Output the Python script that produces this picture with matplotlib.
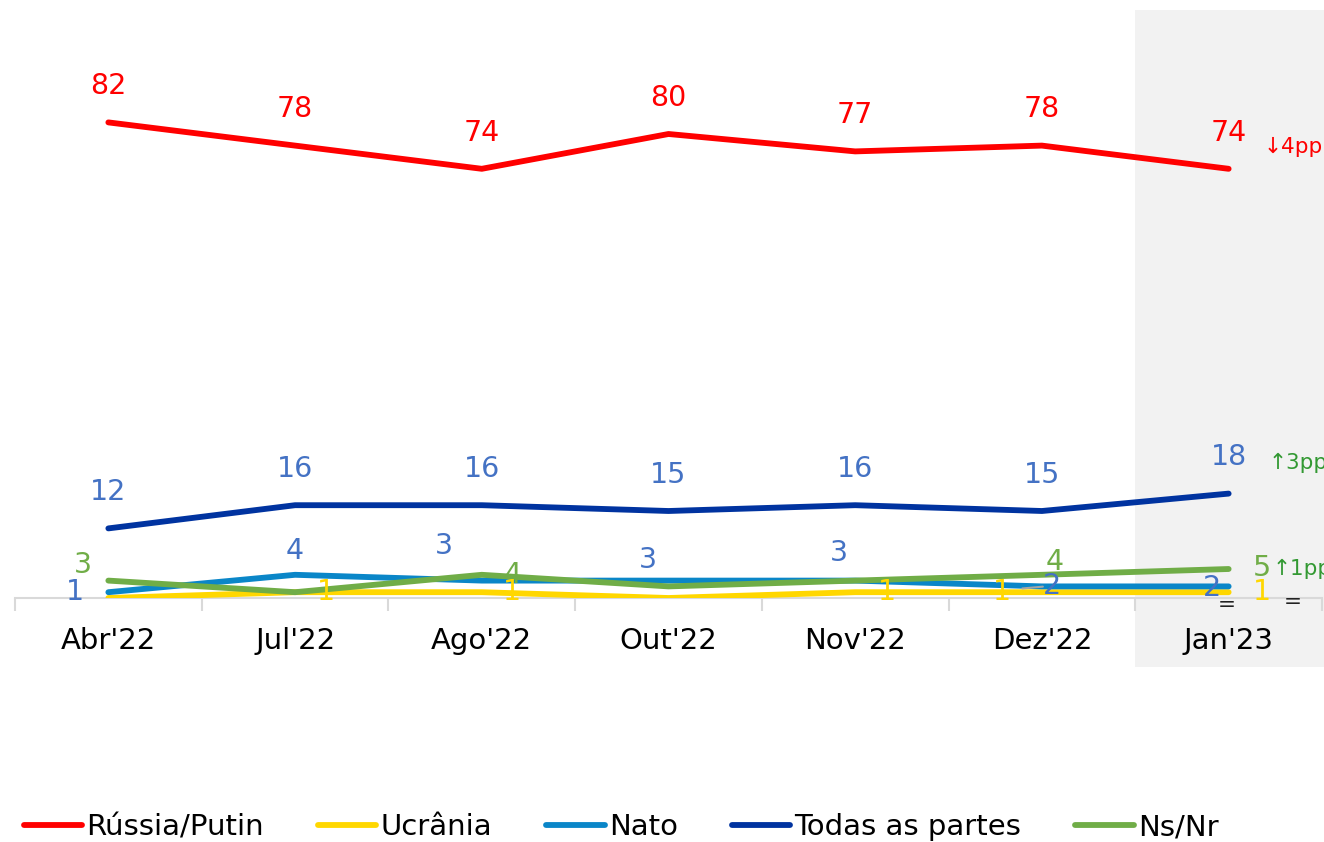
import matplotlib.pyplot as plt
from matplotlib.patches import Rectangle
from matplotlib.transforms import blended_transform_factory

# Data
months = ["Abr'22", "Jul'22", "Ago'22", "Out'22", "Nov'22", "Dez'22", "Jan'23"]
russia = [82, 78, 74, 80, 77, 78, 74]
ucrania = [0, 1, 1, 0, 1, 1, 1]
nato = [1, 4, 3, 3, 3, 2, 2]
todas = [12, 16, 16, 15, 16, 15, 18]
nsnr = [3, 1, 4, 2, 3, 4, 5]
series_names = ["Rússia/Putin", "Ucrânia", "Nato", "Todas as partes", "Ns/Nr"]
changes = ["↓4pp", "=", "=", "↑3pp", "↑1pp"]

line_colors = ["#FF0000", "#FFD700", "#0A86C8", "#0033A0", "#70AD47"]
label_colors = ["#FF0000", "#FFD700", "#4472C4", "#4472C4", "#70AD47"]
change_colors = ["#FF0000", "#222222", "#222222", "#339933", "#339933"]

# label offsets in points (None = label hidden, as in the original)
above = [(0, 26)] * 7
label_offsets = [
    above,
    [None, (22, 0), (22, 0), None, (23, 0), (-29, 0), (24, 0)],
    [(-24, 0), (0, 17), (-27, 25), (-15, 15), (-12, 20), (7, 0), (-12, -1)],
    above,
    [(-18, 11), None, (22, 0), None, None, (9, 9), (24, 1)],
]
change_offsets = [(25, 16), (-8, -9), (40, -11), (29, 22), (32, 0)]

plt.rcParams['font.family'] = ['DejaVu Sans']

fig = plt.figure(figsize=(13.24, 8.42), dpi=100)
ax = fig.add_axes([15 / 1324, 244 / 842, 1307 / 1324, 580 / 842])
ax.set_zorder(1)
ax.set_facecolor("none")

x = list(range(len(months)))
all_series = [russia, ucrania, nato, todas, nsnr]

# shaded last period
shade = Rectangle((5.5, 175 / 842), 1.2, 657 / 842, facecolor="#F2F2F2",
                  edgecolor="none", zorder=0, clip_on=False,
                  transform=blended_transform_factory(ax.transData, fig.transFigure))
fig.patches.append(shade)

for vals, name, lc, tc, offs, chg, cc, coff in zip(
        all_series, series_names, line_colors, label_colors, label_offsets,
        changes, change_colors, change_offsets):
    ax.plot(x, vals, color=lc, lw=4.2, label=name, solid_capstyle="round", zorder=3)
    for xi, v, off in zip(x, vals, offs):
        if off is None:
            continue
        ax.annotate(str(v), (xi, v), xytext=off, textcoords="offset points",
                    ha="center", va="center", fontsize=20.5, color=tc, zorder=4)
    ax.annotate(chg, (x[-1], vals[-1]), xytext=coff, textcoords="offset points",
                ha="left", va="center", fontsize=15.5, color=cc, annotation_clip=False)

# leader line for Dez Nato label
ax.annotate("", (5.02, 2), xytext=(4.88, 1.6),
            arrowprops=dict(arrowstyle="-", color="#A6A6A6", lw=1.5))

ax.set_xlim(-0.5, 6.5)
ax.set_ylim(0, 100)
ax.set_xticks(x)
ax.set_xticklabels(months, fontsize=21)
ax.tick_params(axis="x", length=0, pad=21)
ax.set_xticks([i - 0.5 for i in range(len(months) + 1)], minor=True)
ax.tick_params(axis="x", which="minor", length=9, width=1.5, color="#D9D9D9")
ax.set_yticks([])
for s in ["top", "right", "left"]:
    ax.spines[s].set_visible(False)
ax.spines["bottom"].set_color("#D9D9D9")
ax.spines["bottom"].set_linewidth(1.5)

fig.legend(loc="lower left", bbox_to_anchor=(-0.002, -0.03), ncol=5, frameon=False,
           fontsize=21, handlelength=2.0, handletextpad=0.15, columnspacing=1.85)

fig.savefig("out.png", dpi=100)
